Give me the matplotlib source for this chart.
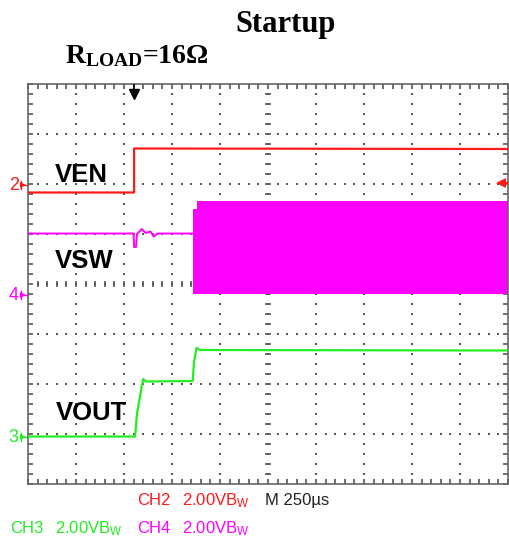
import numpy as np
import matplotlib
matplotlib.use("Agg")
import matplotlib.pyplot as plt

plt.rcParams['font.family'] = ['Liberation Sans', 'DejaVu Sans']
plt.rcParams['mathtext.default'] = 'regular'

# scope traces, time and level in graticule divisions (10 x 8)
ven_t = [0, 2.21, 2.21, 10]
ven_v = [5.83, 5.83, 6.71, 6.70]

vsw_t = [0, 2.20, 2.21, 2.25, 2.27, 2.31, 2.37, 2.45, 2.55, 2.62, 2.70, 3.44]
vsw_v = [5.01, 5.01, 4.74, 4.74, 5.00, 5.04, 5.10, 5.02, 5.05, 4.95, 5.01, 5.01]

# switching envelope of VSW after the converter starts
band_t = [3.44, 3.52, 3.52, 10]
band_hi = [5.50, 5.50, 5.67, 5.67]
band_lo = [3.81, 3.81, 3.81, 3.81]

vout_t = [0, 2.23, 2.27, 2.37, 2.40, 2.46, 3.43, 3.46, 3.51, 3.58, 10]
vout_v = [0.95, 0.95, 1.40, 1.95, 2.10, 2.05, 2.06, 2.45, 2.72, 2.68, 2.67]

trig_t = 2.21
trig_level = 6.02
ch_marks = {"2": 5.98, "4": 3.78, "3": 0.94}

RED = '#ff1a1a'
MAG = '#ff00ff'
GRN = '#22ee22'
GRID = '#555555'

W, H = 509, 541
fig = plt.figure(figsize=(W / 100, H / 100), dpi=100)
ax = fig.add_axes([28 / W, (H - 484) / H, 480 / W, 400 / H])
ax.set_xlim(0, 10)
ax.set_ylim(0, 8)

# graticule
for s in ax.spines.values():
    s.set_color('#666666')
    s.set_linewidth(1.2)
ax.set_xticks(range(11))
ax.set_yticks(range(9))
ax.set_xticks(np.arange(0, 10.01, 0.2), minor=True)
ax.set_yticks(np.arange(0, 8.01, 0.2), minor=True)
ax.tick_params(which='both', direction='in', length=3.5, width=1.2, color=GRID,
               top=True, right=True, labelbottom=False, labelleft=False)

fine_x = np.arange(0.2, 10, 0.2)
fine_y = np.arange(0.2, 8, 0.2)
for gx in range(1, 10):
    ax.plot(np.full_like(fine_y, gx), fine_y, 's', ms=1.6, color=GRID, mew=0, zorder=1)
for gy in range(1, 8):
    ax.plot(fine_x, np.full_like(fine_x, gy), 's', ms=1.6, color=GRID, mew=0, zorder=1)
ax.hlines(fine_y, 5 - 0.06, 5 + 0.06, color=GRID, lw=1.2, zorder=1)
ax.vlines(fine_x, 4 - 0.06, 4 + 0.06, color=GRID, lw=1.2, zorder=1)

# traces
ax.fill_between(band_t, band_lo, band_hi, color=MAG, lw=0, zorder=2)
ax.plot(vsw_t, vsw_v, color=MAG, lw=1.4, zorder=3)
ax.plot(ven_t, ven_v, color=RED, lw=1.6, zorder=3)
ax.plot(vout_t, vout_v, color=GRN, lw=1.6, zorder=3)

# trigger markers
ax.plot([trig_t], [7.80], 'v', ms=7, color='black', clip_on=False, zorder=4)
ax.plot([trig_t, trig_t], [7.80, 8.0], color='black', lw=1.2, zorder=4)
ax.plot([9.86], [trig_level], '<', ms=7, color=RED, mew=0, zorder=4)
ax.plot([9.86, 10], [trig_level, trig_level], color=RED, lw=1.5, zorder=4)

# channel ground markers on the left
for ch, lvl in ch_marks.items():
    col = {"2": RED, "4": MAG, "3": GRN}[ch]
    ax.text(-0.40, lvl, ch, color=col, fontsize=13, ha='left', va='center', clip_on=False)
    ax.plot([-0.10], [lvl], '>', ms=5, color=col, mew=0, clip_on=False)
    ax.plot([-0.17, 0], [lvl, lvl], color=col, lw=1, clip_on=False)
    ax.plot([-0.14, -0.14], [lvl - 0.08, lvl + 0.08], color=col, lw=1, clip_on=False)

# trace labels
lab = dict(fontsize=18.5, fontweight='bold', color='black', va='baseline', ha='left')
ax.text(0.56, 6.05, "VEN", **lab)
ax.text(0.56, 4.31, "VSW", **lab)
ax.text(0.58, 1.28, "VOUT", **lab)


def ftext(x, y, s, **kw):
    fig.text(x / W, 1 - y / H, s, va='baseline', **kw)


ftext(285.5, 32, "Startup", ha='center', fontsize=22, fontweight='bold',
      family='Liberation Serif')
ftext(65, 63, r"R$_\mathregular{LOAD}$=16Ω", ha='left', fontsize=20,
      fontweight='bold', family='Liberation Serif')

# scope readout
ftext(137, 505, "CH2", color=RED, fontsize=12)
ftext(182, 505, r"2.00VB$_\mathregular{W}$", color=RED, fontsize=12)
ftext(265, 505, "M 250µs", color='#222222', fontsize=12)
ftext(10, 533, "CH3", color=GRN, fontsize=12)
ftext(55, 533, r"2.00VB$_\mathregular{W}$", color=GRN, fontsize=12)
ftext(137, 533, "CH4", color=MAG, fontsize=12)
ftext(182, 533, r"2.00VB$_\mathregular{W}$", color=MAG, fontsize=12)

fig.savefig("out.png", dpi=100)
